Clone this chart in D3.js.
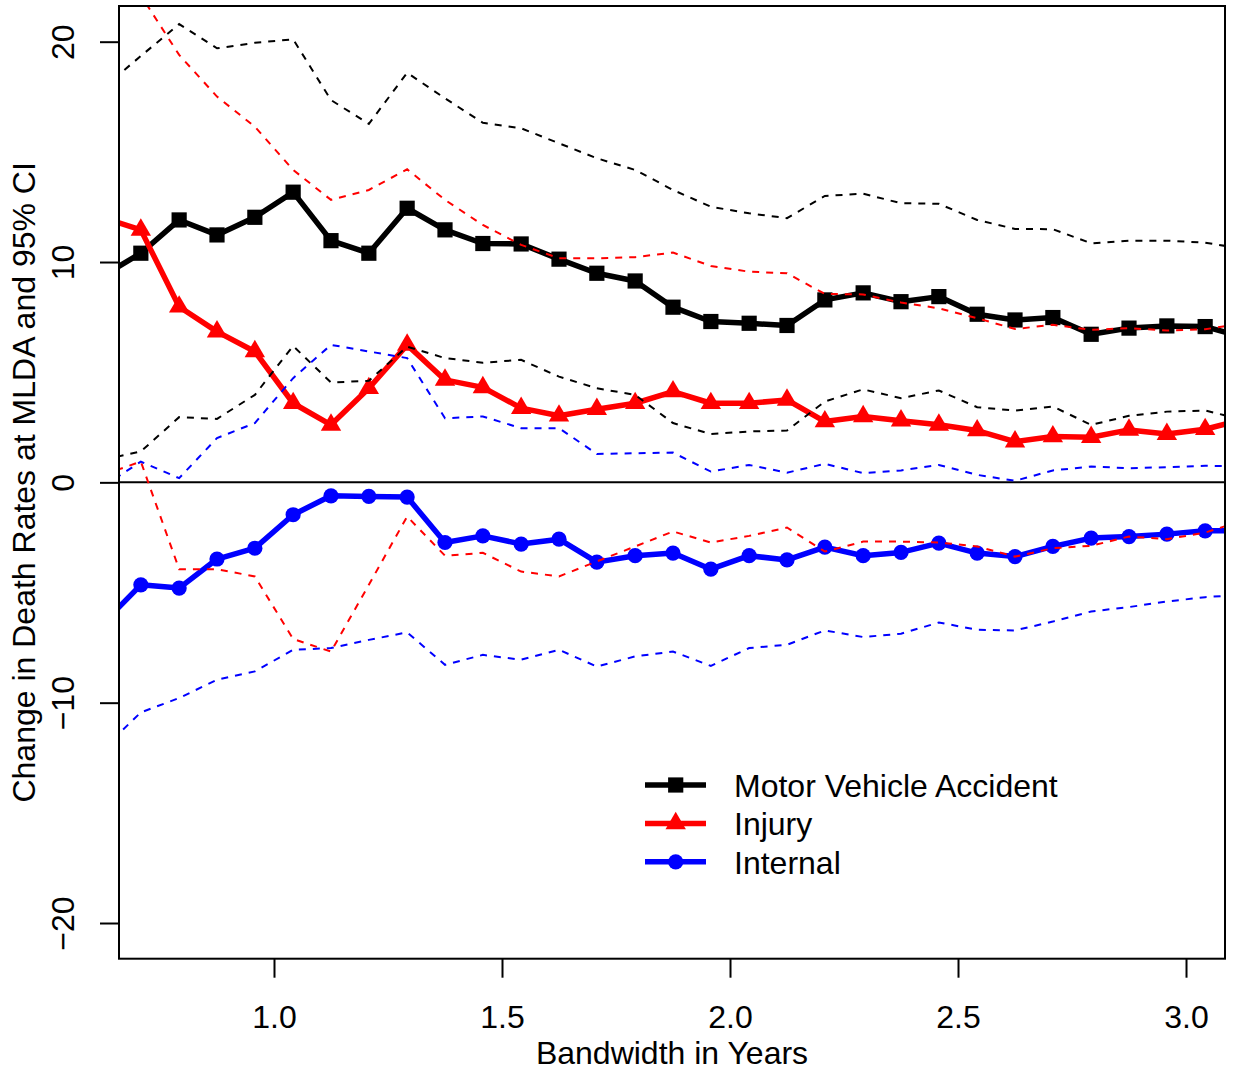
<!DOCTYPE html>
<html>
<head>
<meta charset="utf-8">
<script src="https://cdn.jsdelivr.net/npm/d3@7"></script>
<style>
  body { margin: 0; background: #fff; }
  svg { display: block; }
  text { font-family: "Liberation Sans", Arial, Helvetica, sans-serif; }
</style>
</head>
<body>
<div class="chartDiv"></div>
<script>
// bandwidth in years (monthly steps, first/last fall outside the frame)
var bandwidth = [0.625, 0.708, 0.792, 0.875, 0.958, 1.042, 1.125, 1.208, 1.292, 1.375,
                 1.458, 1.542, 1.625, 1.708, 1.792, 1.875, 1.958, 2.042, 2.125, 2.208,
                 2.292, 2.375, 2.458, 2.542, 2.625, 2.708, 2.792, 2.875, 2.958, 3.042, 3.125];

// motor vehicle accident: estimate and 95% CI
var mva   = [9.38, 10.40, 11.91, 11.23, 12.03, 13.17, 10.97, 10.40, 12.44, 11.46,
             10.84, 10.82, 10.13, 9.49, 9.14, 7.95, 7.30, 7.22, 7.12, 8.28,
             8.60, 8.20, 8.43, 7.63, 7.37, 7.48, 6.72, 7.00, 7.10, 7.07, 6.59];
var mvaLo = [1.02, 1.40, 2.96, 2.88, 3.97, 6.19, 4.53, 4.61, 6.16, 5.64,
             5.43, 5.56, 4.80, 4.27, 3.97, 2.69, 2.19, 2.31, 2.35, 3.67,
             4.22, 3.82, 4.17, 3.41, 3.26, 3.44, 2.61, 3.02, 3.21, 3.26, 2.84];
var mvaHi = [17.9, 19.35, 20.80, 19.70, 19.95, 20.11, 17.35, 16.27, 18.59, 17.43,
             16.32, 16.07, 15.39, 14.71, 14.18, 13.27, 12.51, 12.21, 11.99, 13.00,
             13.10, 12.67, 12.64, 11.91, 11.50, 11.49, 10.85, 10.97, 10.97, 10.88, 10.6];

// injury
var injury = [12.0, 11.46, 7.97, 6.84, 5.94, 3.59, 2.61, 4.27, 6.24, 4.65,
              4.31, 3.37, 3.02, 3.32, 3.59, 4.12, 3.59, 3.59, 3.74, 2.76,
              2.99, 2.80, 2.61, 2.35, 1.85, 2.08, 2.05, 2.38, 2.19, 2.41, 2.85];
var injLo  = [0.34, 0.94, -3.94, -3.94, -4.27, -7.11, -7.68, -4.65, -1.55, -3.33,
              -3.20, -4.05, -4.27, -3.59, -2.91, -2.23, -2.73, -2.43, -2.05, -3.14,
              -2.69, -2.69, -2.73, -2.91, -3.37, -2.99, -2.88, -2.46, -2.58, -2.28, -1.73];
var injHi  = [25.0, 22.1, 19.40, 17.51, 16.14, 14.18, 12.82, 13.27, 14.21, 12.82,
              11.68, 10.78, 10.17, 10.17, 10.22, 10.43, 9.82, 9.56, 9.49, 8.55,
              8.53, 8.16, 7.90, 7.45, 6.96, 7.15, 6.92, 7.00, 6.89, 6.95, 7.2];

// internal
var internal = [-6.41, -4.65, -4.80, -3.48, -2.99, -1.47, -0.61, -0.64, -0.67, -2.73,
                -2.43, -2.80, -2.58, -3.62, -3.33, -3.21, -3.94, -3.33, -3.52, -2.94,
                -3.33, -3.18, -2.76, -3.21, -3.37, -2.91, -2.53, -2.46, -2.35, -2.20, -2.20];
var intLo    = [-12.1, -10.44, -9.79, -8.96, -8.58, -7.60, -7.52, -7.15, -6.81, -8.28,
                -7.83, -8.05, -7.60, -8.36, -7.90, -7.68, -8.33, -7.52, -7.37, -6.72,
                -7.02, -6.87, -6.36, -6.69, -6.72, -6.32, -5.86, -5.66, -5.41, -5.21, -5.1];
var intHi    = [-0.19, 0.94, 0.19, 2.01, 2.69, 4.73, 6.24, 5.94, 5.64, 2.91,
                2.99, 2.46, 2.46, 1.29, 1.32, 1.35, 0.49, 0.79, 0.44, 0.84,
                0.42, 0.54, 0.79, 0.34, 0.07, 0.54, 0.72, 0.64, 0.69, 0.75, 0.72];

var xTicks = [1.0, 1.5, 2.0, 2.5, 3.0];
var yTicks = [-20, -10, 0, 10, 20];
var legendLabels = ["Motor Vehicle Accident", "Injury", "Internal"];

(function(){
  var width  = 1233,
      height = 1070,
      margin = {top: 6, right: 8, bottom: 111.3, left: 119},
      plotW  = width - margin.left - margin.right,
      plotH  = height - margin.top - margin.bottom,
      fontSize = 32;

  var svg = d3.select(".chartDiv")
              .append("svg")
              .attr("width", width)
              .attr("height", height);

  var g = svg.append("g")
             .attr("transform", "translate(" + margin.left + "," + margin.top + ")");

  var x = d3.scaleLinear().domain([0.6601, 3.0855]).range([0, plotW]);
  var y = d3.scaleLinear().domain([-21.62, 21.62]).range([plotH, 0]);

  g.append("clipPath").attr("id", "plotClip")
   .append("rect").attr("width", plotW).attr("height", plotH);

  var plot = g.append("g").attr("clip-path", "url(#plotClip)");

  // zero line
  plot.append("line")
      .attr("x1", 0).attr("x2", plotW)
      .attr("y1", y(0)).attr("y2", y(0))
      .attr("stroke", "black").attr("stroke-width", 2);

  var line = d3.line()
               .x(function(d){ return x(d[0]); })
               .y(function(d){ return y(d[1]); });

  var pairs = function(vals){
    return bandwidth.map(function(b, i){ return [b, vals[i]]; });
  };

  var series = [
    {est: mva,      lo: mvaLo, hi: mvaHi, color: "#000000", shape: "square"},
    {est: injury,   lo: injLo, hi: injHi, color: "#ff0000", shape: "triangle"},
    {est: internal, lo: intLo, hi: intHi, color: "#0000ff", shape: "circle"}
  ];

  //marker shapes, centred on the point like R's pch 15/17/16
  var drawMarker = function(sel, shape, cx, cy, color){
    if(shape === "square"){
      sel.append("rect").attr("x", cx - 7.6).attr("y", cy - 7.6)
         .attr("width", 15.2).attr("height", 15.2).attr("fill", color);
    } else if(shape === "triangle"){
      var p = [[cx, cy - 11.6], [cx + 10.2, cy + 5.8], [cx - 10.2, cy + 5.8]];
      sel.append("path").attr("d", "M" + p.join("L") + "Z").attr("fill", color);
    } else {
      sel.append("circle").attr("cx", cx).attr("cy", cy).attr("r", 7.6).attr("fill", color);
    }
  };

  //solid estimate lines with markers
  series.forEach(function(s){
    plot.append("path")
        .attr("d", line(pairs(s.est)))
        .attr("fill", "none").attr("stroke", s.color)
        .attr("stroke-width", 5.5)
        .attr("stroke-linejoin", "round").attr("stroke-linecap", "round");
    bandwidth.forEach(function(b, i){
      drawMarker(plot, s.shape, x(b), y(s.est[i]), s.color);
    });
  });

  //dashed confidence bands
  series.forEach(function(s){
    [s.lo, s.hi].forEach(function(vals){
      plot.append("path")
          .attr("d", line(pairs(vals)))
          .attr("fill", "none").attr("stroke", s.color)
          .attr("stroke-width", 2)
          .attr("stroke-dasharray", "7,7");
    });
  });

  //frame
  g.append("rect")
   .attr("width", plotW).attr("height", plotH)
   .attr("fill", "none").attr("stroke", "black").attr("stroke-width", 2);

  //x axis
  var xAxis = g.append("g")
               .attr("transform", "translate(0," + plotH + ")")
               .call(d3.axisBottom(x).tickValues(xTicks).tickSize(19)
                       .tickFormat(d3.format(".1f")));
  xAxis.select(".domain").remove();
  xAxis.selectAll("line").attr("stroke", "black").attr("stroke-width", 2);
  xAxis.selectAll("text")
       .attr("y", 69).attr("dy", null)
       .attr("font-size", fontSize).attr("fill", "black")
       .style("font-family", "'Liberation Sans', Arial, sans-serif");

  //y axis
  var yAxis = g.append("g")
               .call(d3.axisLeft(y).tickValues(yTicks).tickSize(19)
                       .tickFormat(function(d){ return d < 0 ? "\u2212" + Math.abs(d) : d; }));
  yAxis.select(".domain").remove();
  yAxis.selectAll("line").attr("stroke", "black").attr("stroke-width", 2);
  yAxis.selectAll("text")
       .attr("x", 0).attr("dy", null)
       .attr("transform", "translate(-45,0) rotate(-90)")
       .attr("text-anchor", "middle")
       .attr("font-size", fontSize).attr("fill", "black")
       .style("font-family", "'Liberation Sans', Arial, sans-serif");

  //axis titles
  svg.append("text")
     .attr("x", margin.left + plotW / 2).attr("y", 1064)
     .attr("text-anchor", "middle").attr("font-size", fontSize)
     .text("Bandwidth in Years");

  svg.append("text")
     .attr("transform", "translate(35," + (margin.top + plotH / 2) + ") rotate(-90)")
     .attr("text-anchor", "middle").attr("font-size", fontSize)
     .text("Change in Death Rates at MLDA and 95% CI");

  //legend
  var legend = svg.append("g");
  series.forEach(function(s, i){
    var ly = 785 + i * 38.4;
    legend.append("line")
          .attr("x1", 645).attr("x2", 706).attr("y1", ly).attr("y2", ly)
          .attr("stroke", s.color).attr("stroke-width", 5.5);
    drawMarker(legend, s.shape, 675.7, ly, s.color);
    legend.append("text")
          .attr("x", 734).attr("y", ly + 11.7)
          .attr("font-size", fontSize)
          .text(legendLabels[i]);
  });
})()
</script>
</body>
</html>
